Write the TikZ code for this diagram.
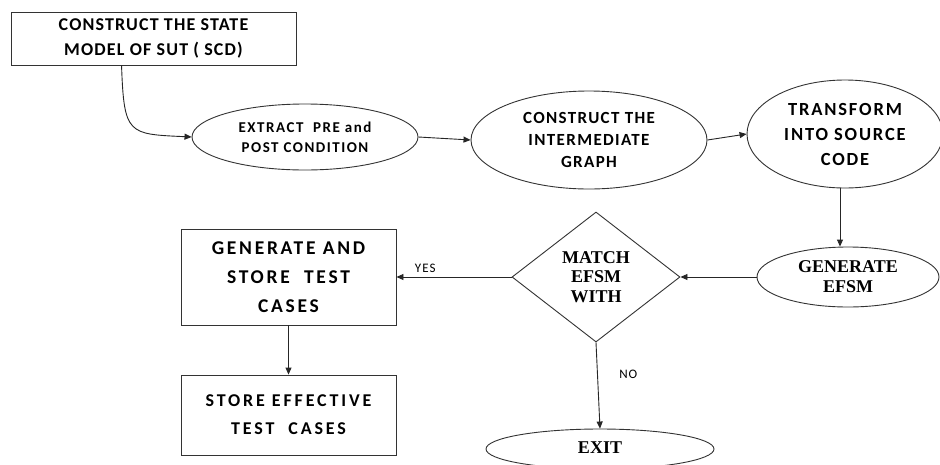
\documentclass[tikz,border=0pt]{standalone}
\usepackage{fontspec}
\setmainfont{Carlito}
\newfontfamily\tnr{Liberation Serif}
\newcommand{\lsp}[1]{\addfontfeatures{LetterSpace=#1}}
\usetikzlibrary{shapes.geometric,arrows.meta}
\tikzset{
  base/.style={draw=black!80, line width=0.9pt, align=center, inner sep=0pt, text=black},
  boxnode/.style={base, rectangle},
  ovalnode/.style={base, ellipse},
  decnode/.style={base, diamond},
  conn/.style={draw=black!85, line width=0.9pt, -{Triangle[length=7pt,width=6pt]}},
  lbl/.style={font=\fontsize{13}{15}\selectfont\lsp{8}, text=black}
}
\begin{document}
\begin{tikzpicture}[x=1pt,y=-1pt]
\useasboundingbox (0,0) rectangle (940,464);
\fill[white] (0,0) rectangle (940,464);
\node[boxnode, minimum width=285pt, minimum height=53pt, font=\bfseries\fontsize{18}{25}\selectfont\lsp{6.5}] (b1) at (153.5,38.5) {CONSTRUCT THE STATE\\MODEL OF SUT ( SCD)};
\node[ovalnode, minimum width=226pt, minimum height=66pt, font=\bfseries\fontsize{15}{20}\selectfont\lsp{10}] (e1) at (305,137) {EXTRACT\ \ PRE and\\POST CONDITION};
\node[ovalnode, minimum width=236pt, minimum height=98pt, font=\bfseries\fontsize{17}{22}\selectfont\lsp{8}] (e2) at (589,140) {CONSTRUCT THE\\INTERMEDIATE\\GRAPH};
\node[ovalnode, minimum width=196pt, minimum height=108pt, font=\bfseries\fontsize{18.5}{25}\selectfont\lsp{10}] (e3) at (845,134) {TRANSFORM\\INTO SOURCE\\CODE};
\node[ovalnode, minimum width=182pt, minimum height=60pt, font=\tnr\bfseries\fontsize{18}{20}\selectfont] (e4) at (848,277) {GENERATE\\EFSM};
\node[decnode, minimum width=168pt, minimum height=130pt, font=\tnr\bfseries\fontsize{18}{19.5}\selectfont] (d) at (596,277) {MATCH\\EFSM\\WITH};
\node[boxnode, minimum width=215pt, minimum height=96pt, font=\bfseries\fontsize{19.5}{29}\selectfont\lsp{14}] (b2) at (288.5,277) {GENERATE AND\\STORE\ \ TEST\\CASES};
\node[boxnode, minimum width=215pt, minimum height=80pt, font=\bfseries\fontsize{18}{28}\selectfont\lsp{16}] (b3) at (288.5,415) {STORE EFFECTIVE\\TEST\ \ CASES};
\node[ovalnode, minimum width=228pt, minimum height=40pt, font=\tnr\bfseries\fontsize{18}{20}\selectfont] (e5) at (600,449) {\raisebox{2pt}{EXIT}};
\coordinate (s1) at ([xshift=111pt]b1.south west);
\draw[conn] (s1) .. controls (124,135) and (128,134) .. (e1.west);
\draw[conn] (e1.east) -- (e2.west);
\draw[conn] (e2.east) -- (e3.west);
\coordinate (s3) at ([xshift=-5pt]e3.south);
\draw[conn] (s3) -- (s3 |- e4.north);
\draw[conn] (e4.west) -- (d.east);
\draw[conn] (d.west) -- node[lbl, pos=0.75, above=1pt] {YES} (b2.east);
\draw[conn] (b2.south) -- (b3.north);
\draw[conn] (d.south) -- node[lbl, pos=0.37, right=18pt] {NO} (e5.north);
\end{tikzpicture}
\end{document}
